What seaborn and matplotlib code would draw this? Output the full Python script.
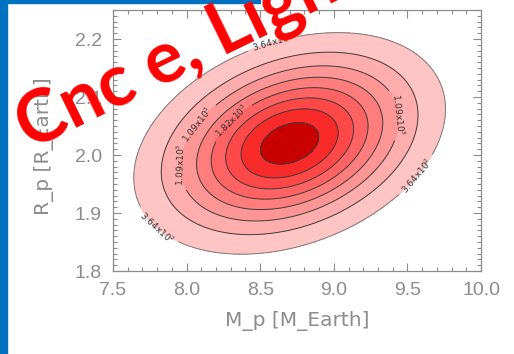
import numpy as np
import matplotlib
matplotlib.use("Agg")
import matplotlib.pyplot as plt
from matplotlib.patches import Rectangle
import seaborn as sns

# posterior in (M_p, R_p)
m_centre = 8.70
r_centre = 2.02
m_sigma = 0.51
r_sigma = 0.092
rho = 0.31
peak = 3140.0

levels = [364, 728, 1092, 1456, 1820, 2184, 2548, 2912]
band_colors = ["#ffc4c4", "#ffadad", "#ff9696", "#ff7d7d", "#ff6363",
               "#ff4848", "#f82a2a", "#c80000"]
labelled = [364, 1092, 1820, 2548]
label_names = ["3.64x10$^{2}$", "1.09x10$^{3}$", "1.82x10$^{3}$", "2.55x10$^{3}$"]
label_spots = [(7.75, 1.862), (8.57, 2.207), (9.52, 1.974),
               (7.956, 1.983), (9.42, 2.069), (8.126, 2.043), (8.31, 2.057)]

x_ticks = [7.5, 8.0, 8.5, 9.0, 9.5, 10.0]
y_ticks = [1.8, 1.9, 2.0, 2.1, 2.2]

sns.set_style("ticks")
grey = "#8c8c8c"

m = np.linspace(7.5, 10.0, 500)
r = np.linspace(1.8, 2.25, 500)
M, R = np.meshgrid(m, r)
dx = (M - m_centre) / m_sigma
dy = (R - r_centre) / r_sigma
q = (dx**2 - 2 * rho * dx * dy + dy**2) / (1 - rho**2)
Z = peak * np.exp(-q / 2)

fig = plt.figure(figsize=(5.14, 3.54), dpi=100)
ax = fig.add_axes([113 / 514, 83 / 354, 368 / 514, 261 / 354])

ax.contourf(M, R, Z, levels=levels + [peak * 2], colors=band_colors)
plain = [v for v in levels if v not in labelled]
ax.contour(M, R, Z, levels=plain, colors="#3c3c3c", linewidths=0.7)
line_cols = ["#7a7a7a"] + ["#3c3c3c"] * (len(labelled) - 1)
cs = ax.contour(M, R, Z, levels=labelled, colors=line_cols, linewidths=0.7)
ax.clabel(cs, fmt=dict(zip(labelled, label_names)), fontsize=6.5,
          colors="#333333", manual=label_spots, inline=True)

ax.set_xlim(7.5, 10.0)
ax.set_ylim(1.8, 2.25)
ax.set_xticks(x_ticks)
ax.set_xticklabels([f"{v:.1f}" for v in x_ticks])
ax.set_yticks(y_ticks)
ax.set_yticklabels([f"{v:.1f}" for v in y_ticks])
ax.set_xticks(np.arange(7.5, 10.001, 0.1), minor=True)
ax.set_yticks(np.arange(1.8, 2.2501, 0.01), minor=True)
ax.tick_params(which="both", direction="in", top=True, right=True,
               color=grey, labelcolor=grey, width=0.8)
ax.tick_params(which="major", length=6, labelsize=14, pad=8)
ax.tick_params(which="minor", length=3)
for lab in ax.get_xticklabels() + ax.get_yticklabels():
    lab.set_family("Liberation Sans")
for sp in ax.spines.values():
    sp.set_color(grey)
    sp.set_linewidth(0.9)

ax.set_xlabel("M_p [M_Earth]", fontsize=14.5, color=grey)
ax.set_ylabel("R_p [R_Earth]", fontsize=14.5, color=grey)
ax.xaxis.set_label_coords(0.5, -0.155)
ax.yaxis.set_label_coords(-0.16, 0.48)

# slide decoration: blue frame and the red title running across
fig.patches.append(Rectangle((0, 0), 7 / 514, 1, transform=fig.transFigure,
                             color="#0070c0", zorder=1))
fig.patches.append(Rectangle((0, 1 - 2.5 / 354), 260 / 514, 2.5 / 354,
                             transform=fig.transFigure, color="#0070c0", zorder=1))
title_kw = dict(color="red", fontsize=52, fontweight="bold",
                family=["Lato", "DejaVu Sans"], rotation=26,
                rotation_mode="anchor", va="baseline", zorder=5)
fig.text(29 / 514, 1 - 150 / 354, "Cnc e, Light curve", ha="left", **title_kw)
fig.text(3 / 514, 1 - 142 / 354, "55", ha="right", **title_kw)

fig.savefig("out.png", dpi=100)
